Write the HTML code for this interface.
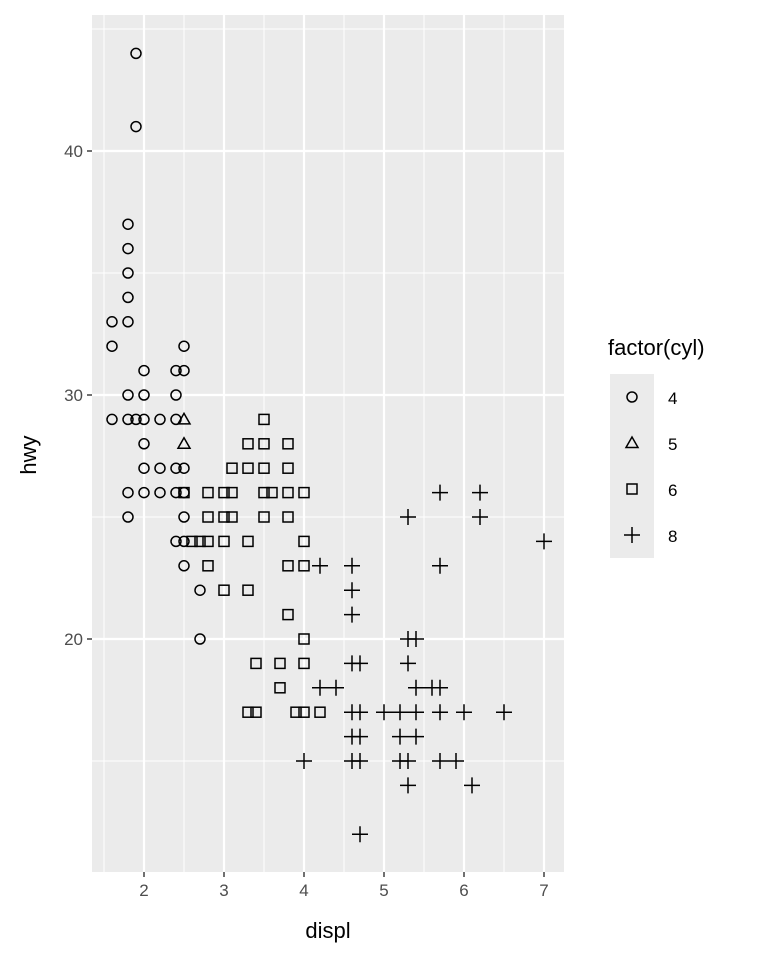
<!DOCTYPE html>
<html><head><meta charset="utf-8"><style>body{margin:0;background:#fff}svg{display:block;font-family:"Liberation Sans",sans-serif}</style></head>
<body>
<svg id="chart" width="768" height="960" xmlns="http://www.w3.org/2000/svg">
<rect x="92" y="15" width="472" height="857" fill="#ebebeb"/>
<g id="grid"></g><g id="pts"></g><g id="axes"></g>
<text x="328" y="938" font-size="22" text-anchor="middle">displ</text>
<text x="36" y="455" font-size="22" text-anchor="middle" transform="rotate(-90 36 455)">hwy</text>
<text x="608" y="355" font-size="22">factor(cyl)</text>
<rect x="610" y="374" width="44" height="184" fill="#ebebeb"/>
<g id="legend"></g>
</svg>
<script>
const xTicks=[2,3,4,5,6,7];
const yTicks=[20,30,40];
const cyl4=[[1.9,44],[1.9,41],[1.8,37],[1.8,36],[1.8,35],[1.8,34],[1.6,33],[1.8,33],[1.6,32],[2.5,32],[2.0,31],[2.4,31],[2.5,31],[1.8,30],[2.0,30],[2.4,30],[1.6,29],[1.8,29],[1.9,29],[2.0,29],[2.2,29],[2.4,29],[2.0,28],[2.0,27],[2.2,27],[2.4,27],[2.5,27],[1.8,26],[2.0,26],[2.2,26],[2.4,26],[2.5,26],[1.8,25],[2.5,25],[2.4,24],[2.5,24],[2.5,23],[2.7,22],[2.7,20]];
const cyl5=[[2.5,29],[2.5,28]];
const cyl6=[[3.5,29],[3.3,28],[3.5,28],[3.8,28],[3.1,27],[3.3,27],[3.5,27],[3.8,27],[2.5,26],[2.8,26],[3.0,26],[3.1,26],[3.5,26],[3.6,26],[3.8,26],[4.0,26],[2.8,25],[3.0,25],[3.1,25],[3.5,25],[3.8,25],[2.6,24],[2.7,24],[2.8,24],[3.0,24],[3.3,24],[4.0,24],[2.8,23],[3.8,23],[4.0,23],[3.0,22],[3.3,22],[3.8,21],[4.0,20],[3.4,19],[3.7,19],[4.0,19],[3.7,18],[3.3,17],[3.4,17],[3.9,17],[4.0,17],[4.2,17]];
const cyl8=[[5.7,26],[6.2,26],[5.3,25],[6.2,25],[7.0,24],[4.2,23],[4.6,23],[5.7,23],[4.6,22],[4.6,21],[5.3,20],[5.4,20],[4.6,19],[4.7,19],[5.3,19],[4.2,18],[4.4,18],[5.4,18],[5.6,18],[5.7,18],[4.6,17],[4.7,17],[5.0,17],[5.2,17],[5.4,17],[5.7,17],[6.0,17],[6.5,17],[4.6,16],[4.7,16],[5.2,16],[5.4,16],[4.0,15],[4.6,15],[4.7,15],[5.2,15],[5.3,15],[5.7,15],[5.9,15],[5.3,14],[6.1,14],[4.7,12]];
const legendLabels=["4","5","6","8"];
const X=v=>144+(v-2)*80, Y=v=>639-(v-20)*24.4;
const NS="http://www.w3.org/2000/svg";
function mk(p,t,a){const e=document.createElementNS(NS,t);for(const k in a)e.setAttribute(k,a[k]);p.appendChild(e);return e;}
const grid=document.getElementById('grid'),axes=document.getElementById('axes'),pts=document.getElementById('pts'),leg=document.getElementById('legend');
[1.5,2.5,3.5,4.5,5.5,6.5].forEach(v=>{const l=mk(grid,'line',{x1:X(v),x2:X(v),y1:15,y2:872,stroke:'#fff','stroke-width':1});

});
[15,25,35,45].forEach(v=>{const l=mk(grid,'line',{x1:92,x2:564,y1:Y(v),y2:Y(v),stroke:'#fff','stroke-width':1});

});
xTicks.forEach(v=>{const l=mk(grid,'line',{x1:X(v),x2:X(v),y1:15,y2:872,stroke:'#fff','stroke-width':2.2});


const t=mk(axes,'line',{x1:X(v),x2:X(v),y1:872,y2:877,stroke:'#333','stroke-width':1.4});


const tx=mk(axes,'text',{x:X(v),y:896,'font-size':17,fill:'#4d4d4d','text-anchor':'middle'});tx.textContent=v;

});
yTicks.forEach(v=>{const l=mk(grid,'line',{x1:92,x2:564,y1:Y(v),y2:Y(v),stroke:'#fff','stroke-width':2.2});


const t=mk(axes,'line',{x1:87,x2:92,y1:Y(v),y2:Y(v),stroke:'#333','stroke-width':1.4});


const tx=mk(axes,'text',{x:83,y:Y(v)+6,'font-size':17,fill:'#4d4d4d','text-anchor':'end'});tx.textContent=v;

});
function shape(p,k,x,y){const s={fill:'none',stroke:'#000','stroke-width':1.5};let e;
if(k==0)e=mk(p,'circle',Object.assign({cx:x,cy:y,r:5},s));
else if(k==1)e=mk(p,'path',Object.assign({d:`M${x} ${y-6}L${x+6} ${y+4.5}L${x-6} ${y+4.5}Z`},s));
else if(k==2)e=mk(p,'rect',Object.assign({x:x-5,y:y-5,width:10,height:10},s));
else e=mk(p,'path',Object.assign({d:`M${x-8} ${y}H${x+8}M${x} ${y-8}V${y+8}`},s));return e;}
[cyl4,cyl5,cyl6,cyl8].forEach((arr,k)=>arr.forEach(d=>{const e=shape(pts,k,X(d[0]),Y(d[1]));

}));
legendLabels.forEach((lb,i)=>{const y=397+i*46;const e=shape(leg,i,632,y);


const t=mk(leg,'text',{x:668,y:y+7,'font-size':17,fill:'#000'});t.textContent=lb;

});
</script>
</body></html>
